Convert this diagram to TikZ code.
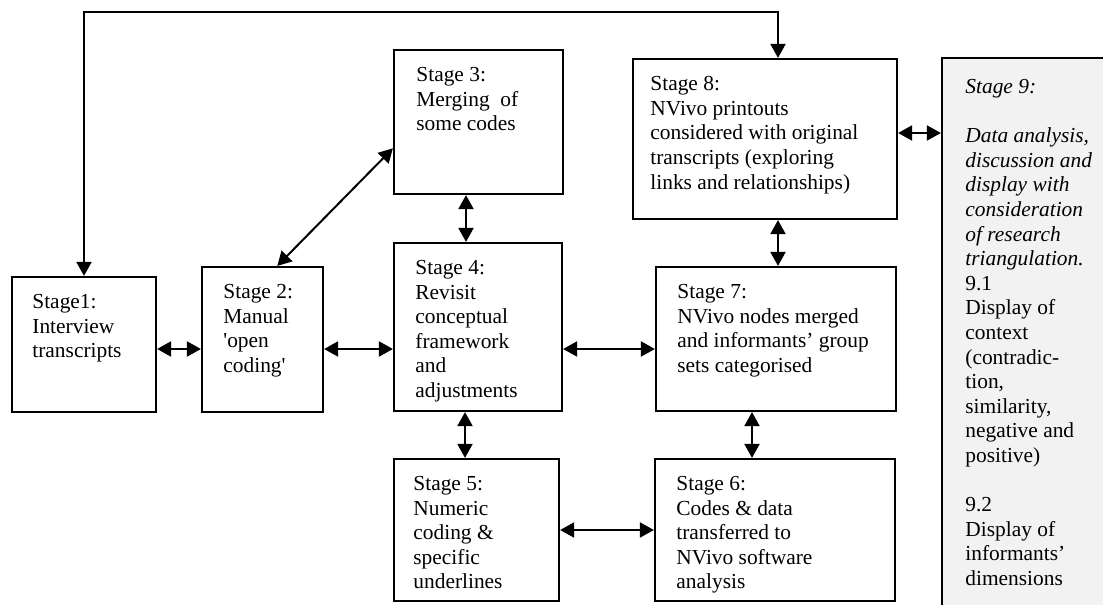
\documentclass[tikz,border=0pt]{standalone}
\usepackage{fontspec}
\setmainfont{Liberation Serif}
\usetikzlibrary{arrows.meta,calc}

\begin{document}
\begin{tikzpicture}[x=0.5pt,y=-0.5pt,
  box/.style 2 args={draw,line width=1.1pt,inner sep=0pt,
    minimum width=#1*0.5pt,minimum height=#2*0.5pt},
  shaded/.style={fill=black!5},
  txt/.style={anchor=north west,align=left,inner sep=0pt,
    font=\fontsize{10.7}{12.3}\selectfont},
  link/.style={line width=1pt,
    {Triangle[length=7pt,width=7.5pt]}-{Triangle[length=7pt,width=7.5pt]}}]

% page area
\clip (0,0) rectangle (1103,605);
\fill[white] (0,0) rectangle (1103,605);

% stage boxes
\node[box={144}{135}] (s1) at (84,344.5) {};
\node[box={121}{145}] (s2) at (262.5,339.5) {};
\node[box={169}{144}] (s3) at (478.5,122) {};
\node[box={168}{168}] (s4) at (478,327) {};
\node[box={165}{142}] (s5) at (476.5,530) {};
\node[box={240}{142}] (s6) at (775,530) {};
\node[box={240}{144}] (s7) at (776,339) {};
\node[box={264}{160}] (s8) at (765,139) {};
\node[box={178}{567},shaded] (s9) at (1031,341.5) {};

% box texts
\node[txt] (s1t) at (32,294) {Stage1:\\Interview\\transcripts};
\node[txt] (s2t) at (223,284) {Stage 2:\\Manual\\\textquotesingle open\\coding\textquotesingle};
\node[txt] (s3t) at (416,67) {Stage 3:\\Merging~ of\\some codes};
\node[txt] (s4t) at (415,260) {Stage 4:\\Revisit\\conceptual\\framework\\and\\adjustments};
\node[txt] (s5t) at (413,476) {Stage 5:\\Numeric\\coding \&\\specific\\underlines};
\node[txt] (s6t) at (676,476) {Stage 6:\\Codes \& data\\transferred to\\NVivo software\\analysis};
\node[txt] (s7t) at (677,284) {Stage 7:\\NVivo nodes merged\\and informants’ group\\sets categorised};
\node[txt] (s8t) at (650,76) {Stage 8:\\NVivo printouts\\considered with original\\transcripts (exploring\\links and relationships)};
\node[txt] (s9t) at (965,79) {\textit{Stage 9:}\\[12.3pt]
  \textit{Data analysis,}\\\textit{discussion and}\\\textit{display with}\\
  \textit{consideration}\\\textit{of research}\\\textit{triangulation.}\\
  9.1\\Display of\\context\\(contradic-\\tion,\\similarity,\\negative and\\positive)\\[12.3pt]
  9.2\\Display of\\informants’\\dimensions};

% helper coordinates for connector positions
\coordinate (top8) at (778,12);
\coordinate (v34) at (466,0);
\coordinate (v45) at (465,0);
\coordinate (v76) at (752,0);
\coordinate (row) at (0,349);
\coordinate (row89) at (0,133);

% connectors
\draw[link] (s1.north) |- (top8) -- (top8 |- s8.north);
\draw[link] (s1.east |- row) -- (s2.west |- row);
\draw[link] (s2.east |- row) -- (s4.west |- row);
\draw[link] (s4.east |- row) -- (s7.west |- row);
\draw[link] ($(s2.north west)!0.62!(s2.north east)$) -- ($(s3.north west)!0.68!(s3.south west)$);
\draw[link] (v34 |- s3.south) -- (v34 |- s4.north);
\draw[link] (v45 |- s4.south) -- (v45 |- s5.north);
\draw[link] (top8 |- s8.south) -- (top8 |- s7.north);
\draw[link] (v76 |- s7.south) -- (v76 |- s6.north);
\draw[link] (s5.east) -- (s6.west);
\draw[link] (s8.east |- row89) -- (s9.west |- row89);
\end{tikzpicture}
\end{document}
